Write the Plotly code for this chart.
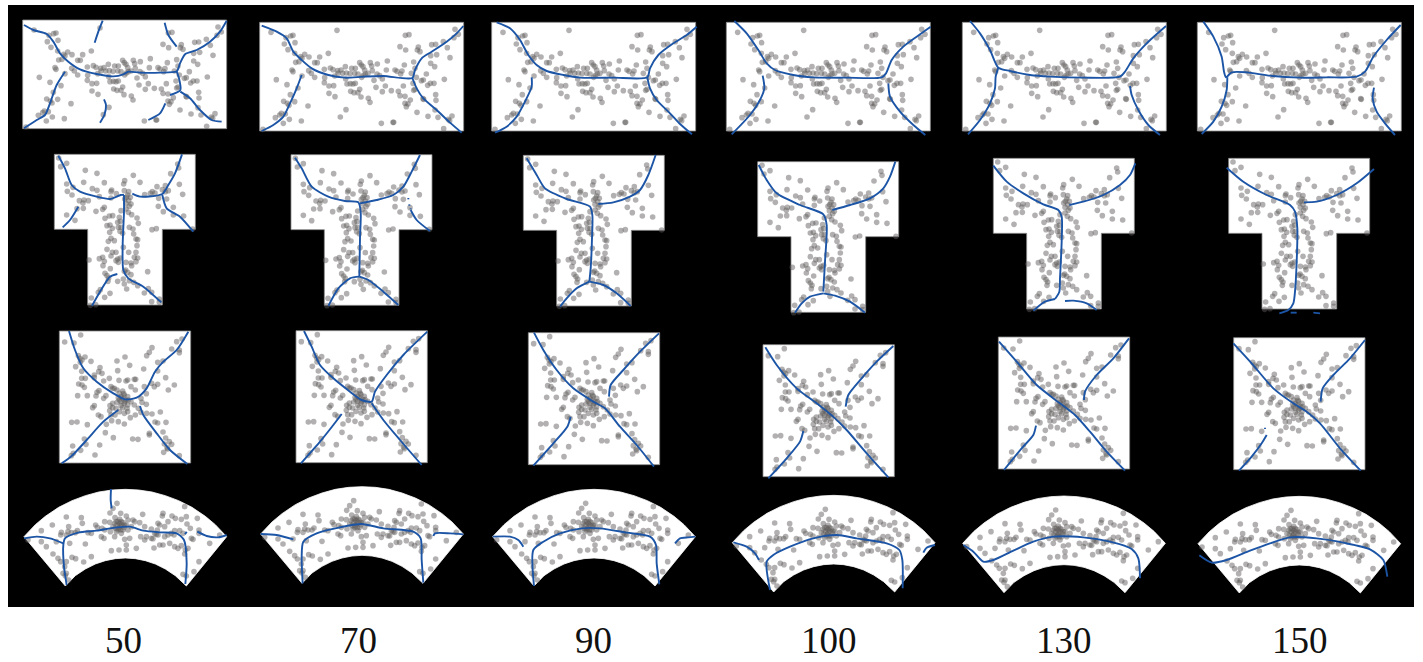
import plotly.graph_objects as go

# Column labels
LABELS = ["50", "70", "90", "100", "130", "150"]
LABEL_X = [123.5, 358, 593, 829, 1064, 1300]
LABEL_Y = 640

# Zoomed crop origins (image px); all lists below are in 3x crop units
CROPS_R1 = [(0, 0), (0, 0), (480, 0), (480, 0), (950, 0), (950, 0)]
CROPS_R2 = [(0, 145), (0, 145), (480, 145), (480, 145), (950, 145), (950, 145)]
CROPS_R3 = [(0, 320), (0, 320), (480, 320), (480, 320), (950, 320), (950, 320)]
CROPS_R4 = [(0, 480), (0, 480), (480, 480), (480, 480), (950, 480), (950, 480)]

# Panel origins inside their crops
ORIG_R1 = [(68, 60), (779, 67), (35, 67), (739, 67), (37, 67), (742, 67)]
ORIG_R2 = [(163, 28), (873, 29), (130, 31), (833, 50), (130, 40), (836, 40)]
ORIG_R3 = [(178, 33), (888, 32), (145, 38), (849, 74), (145, 51), (851, 53)]
ORIG_R4 = [(72, 170), (782, 162), (38, 170), (757, 188), (38, 190), (744, 191)]

# Domain outlines relative to each panel origin
SHAPE_R1 = [(0, 0), (612, 0), (612, 326), (0, 326), (0, 0)]
SHAPE_R2 = [(0, 0), (423, 0), (423, 225), (324, 225), (324, 452), (100, 452), (100, 225), (0, 225), (0, 0)]
SHAPE_R3 = [(0, 0), (394, 0), (394, 396), (0, 396), (0, 0)]
SHAPE_R4 = [(0, 0), (34, -36), (64, -61), (104, -88), (144, -108), (184, -123), (224, -134), (264, -140), (304, -142),
            (344, -140), (384, -134), (424, -123), (464, -108), (504, -88), (544, -61), (574, -36), (608, 0),
            (487, 148), (454, 117), (424, 97), (394, 82), (364, 72), (334, 66), (304, 64), (274, 66), (244, 72),
            (214, 82), (184, 97), (154, 117), (124, 148), (0, 0)]

# Scatter clouds (same samples in every column of a row); crop coords of the panel they were read from
CLOUD_SRC = [(35, 67), (130, 31), (145, 38), (38, 170)]
CLOUD_R1 = [(69,97),(267,91),(135,106),(128,108),(114,113),(109,132),(141,128),(120,149),(140,160),(170,163),(183,171),(158,170),(162,175),(153,185),(143,187),(215,171),(241,160),(200,188),(208,188),(247,204),(229,208),(255,209),(269,212),(292,200),(311,205),(322,205),(335,188),(340,195),(345,200),(367,188),(371,198),(388,192),(418,183),(456,140),(472,106),(483,104),(473,150),(511,141),(508,150),(516,155),(551,134),(563,133),(586,125),(598,143),(606,173),(621,88),(631,103),(618,113),(548,167),(566,164),(548,190),(560,200),(535,222),(589,238),(469,195),(497,186),(501,205),(490,220),(441,210),(447,214),(462,213),(458,222),(415,210),(387,222),(395,227),(373,212),(360,220),(350,210),(352,222),(341,232),(346,226),(330,222),(320,220),(306,221),(295,219),(284,220),(279,210),(270,220),(260,228),(230,233),(229,248),(243,258),(257,257),(243,280),(261,290),(293,237),(297,252),(307,251),(315,252),(322,250),(308,274),(318,278),(330,278),(335,268),(339,291),(361,295),(366,307),(384,262),(378,241),(403,237),(412,258),(403,275),(430,272),(451,274),(456,287),(471,289),(471,310),(487,300),(480,312),(475,320),(507,337),(540,349),(570,352),(601,358),(612,348),(605,362),(587,386),(561,330),(564,301),(563,284),(525,296),(527,298),(539,256),(547,250),(558,250),(501,268),(497,271),(520,242),(526,240),(505,232),(495,250),(466,258),(132,210),(135,215),(85,239),(117,254),(162,228),(182,212),(190,220),(200,232),(150,264),(127,284),(107,304),(118,310),(140,305),(123,316),(112,342),(100,340),(95,345),(82,353),(124,358),(106,370),(160,363),(180,318),(294,329),(277,351),(400,370),(437,367),(435,367),(45,388)]
CLOUD_R2 = [(143,42),(167,58),(149,68),(223,79),(258,88),(367,94),(341,110),(387,115),(338,120),(280,116),(500,60),(503,72),(479,89),(505,121),(515,151),(167,120),(186,130),(169,142),(183,153),(218,115),(244,134),(258,139),(302,138),(300,143),(316,149),(340,140),(353,143),(350,153),(346,160),(358,160),(341,165),(353,170),(360,180),(345,178),(355,187),(438,128),(463,125),(454,137),(424,143),(432,147),(418,148),(401,152),(463,143),(472,140),(443,163),(467,165),(442,187),(457,203),(487,190),(487,213),(518,216),(205,170),(232,170),(219,168),(216,177),(198,194),(217,193),(255,202),(275,196),(280,190),(300,162),(265,158),(295,216),(282,223),(305,215),(325,220),(330,200),(345,195),(352,205),(362,212),(378,222),(382,238),(328,232),(320,235),(297,243),(288,245),(304,253),(322,250),(330,250),(327,262),(335,268),(355,250),(366,255),(368,270),(375,285),(380,287),(378,305),(296,265),(300,283),(310,290),(292,292),(167,213),(192,229),(423,257),(436,254),(545,255),(337,310),(288,316),(304,325),(315,325),(353,325),(375,325),(300,336),(275,340),(265,344),(280,352),(234,348),(320,345),(328,342),(315,350),(322,355),(345,355),(360,357),(370,340),(380,342),(375,353),(362,365),(276,365),(298,374),(344,378),(340,382),(350,385),(360,392),(410,383),(282,388),(288,395),(293,402),(291,412),(320,412),(337,405),(355,410),(368,415),(340,420),(347,435),(380,425),(412,434),(422,445),(400,447),(268,437),(262,445),(281,460),(297,448),(241,462),(445,465),(422,473),(445,475),(238,484),(254,482)]
CLOUD_R3 = [(209,50),(161,71),(189,74),(423,88),(415,102),(407,112),(497,70),(513,62),(482,92),(505,95),(505,103),(202,112),(207,120),(222,116),(213,125),(240,129),(208,132),(194,145),(267,148),(212,159),(263,160),(273,165),(250,170),(212,180),(223,180),(203,197),(213,200),(220,207),(318,128),(342,116),(356,141),(320,157),(398,152),(440,132),(456,128),(440,158),(464,178),(295,180),(324,186),(345,188),(350,185),(370,183),(374,183),(278,188),(250,178),(300,205),(305,210),(264,217),(258,222),(255,233),(229,232),(200,232),(285,232),(278,240),(310,210),(318,215),(335,218),(360,205),(373,215),(400,205),(422,195),(430,205),(440,198),(490,200),(472,215),(406,226),(390,240),(393,252),(406,258),(325,225),(330,235),(340,230),(350,235),(345,245),(325,245),(318,252),(305,255),(297,262),(296,277),(305,268),(315,270),(330,262),(340,255),(350,260),(360,250),(370,260),(382,270),(390,282),(250,262),(245,268),(300,290),(312,290),(325,280),(340,285),(350,280),(358,298),(373,290),(407,285),(423,287),(448,281),(262,290),(270,295),(302,307),(322,310),(340,317),(286,318),(182,312),(198,311),(229,319),(283,343),(307,358),(365,362),(381,363),(415,345),(415,350),(432,311),(440,314),(465,312),(456,341),(464,359),(475,370),(460,377),(468,388),(482,378),(458,402),(470,392),(505,412),(266,380),(252,410),(220,362),(225,378),(209,396),(185,383),(187,405),(181,412),(335,240),(342,250),(330,250),(352,245),(322,238),(338,226),(335,268),(348,270)]
CLOUD_R4 = [(317,70),(305,85),(296,99),(328,100),(394,103),(165,111),(210,113),(213,130),(123,135),(172,140),(90,152),(198,152),(192,158),(170,155),(150,157),(148,165),(180,158),(165,165),(230,158),(240,160),(253,135),(258,142),(280,125),(295,127),(272,145),(280,150),(297,155),(311,113),(345,108),(350,120),(370,125),(385,128),(330,125),(340,135),(325,140),(310,130),(320,150),(305,140),(335,150),(350,150),(320,125),(312,145),(330,160),(345,135),(360,140),(365,120),(400,140),(420,147),(440,130),(445,135),(455,100),(453,108),(482,108),(492,115),(510,118),(520,80),(525,110),(527,132),(537,145),(558,115),(563,150),(563,160),(545,178),(505,152),(490,152),(470,125),(460,140),(438,150),(430,160),(405,170),(388,170),(400,180),(420,175),(425,176),(440,165),(460,170),(470,165),(480,160),(488,165),(475,190),(445,195),(455,195),(428,204),(375,205),(345,195),(345,210),(323,210),(300,212),(355,175),(340,178),(310,170),(270,170),(278,175),(222,192),(175,190),(135,185),(105,200),(90,185),(125,222),(140,235),(148,245),(165,245),(182,232),(193,236),(217,246),(240,230),(160,260),(155,280),(165,280),(172,300),(162,287),(515,283),(525,288),(548,275),(563,245),(522,210),(520,222),(510,197),(490,200),(500,205),(530,205),(540,175),(515,160),(625,165),(595,190),(50,180),(435,163),(325,130),(318,135),(330,135),(335,128),(322,145),(328,150),(315,155),(338,142),(315,125),(325,118)]

# Blue curves per panel, crop coords
LINES_R1 = [
 [[(72,75),(100,90),(140,102),(160,125),(180,160),(205,185),(240,208),(290,222),(340,229),(370,223),(385,215),(420,218),(480,218),(530,214),(540,190),(556,162),(590,150),(630,125),(660,95),(680,62)],
  [(530,214),(537,235),(541,270),(510,285)],[(541,275),(570,295),(600,330),(635,360),(665,365)],
  [(308,62),(295,95),(284,128)],[(494,68),(505,105),(530,140)],
  [(195,215),(170,255),(150,310),(135,345),(110,360),(72,385)],[(312,298),(318,315),(313,345),(300,368)],[(496,310),(480,340),(445,360)]],
 [[(785,77),(830,95),(860,115),(880,155),(905,180),(935,205),(985,225),(1035,233),(1090,230),(1150,228),(1237,234),(1245,210),(1265,175),(1295,155),(1340,125),(1370,100),(1390,78)],
  [(1237,234),(1250,265),(1270,295),(1310,330),(1350,368),(1385,398)],[(905,225),(890,265),(870,310),(850,350),(820,375),(785,393)]],
 [[(50,67),(90,85),(120,120),(145,165),(170,195),(200,213),(250,225),(300,233),(400,233),(502,232),(510,205),(535,165),(580,130),(620,105),(650,80)],
  [(502,232),(510,265),(530,300),(570,340),(600,372),(636,403)],[(155,232),(155,260),(135,305),(110,350),(80,380),(45,398)]],
 [[(763,63),(800,100),(835,150),(860,190),(885,210),(940,225),(1000,232),(1100,233),(1205,232),(1218,220),(1235,180),(1270,140),(1310,110),(1352,80)],
  [(1225,250),(1230,290),(1260,335),(1300,375),(1336,405)],[(848,227),(853,265),(840,300),(810,345),(755,403)]],
 [[(60,63),(90,100),(120,150),(145,203),(180,213),(240,225),(300,230),(400,233),(510,230),(525,215),(550,175),(590,130),(648,78)],
  [(540,258),(545,285),(565,330),(595,375),(630,405)],[(145,203),(137,230),(135,265),(120,310),(90,360),(54,403)]],
 [[(760,65),(790,110),(815,170),(822,215),(828,232),(845,217),(890,217),(960,227),(1050,233),(1130,232),(1220,230),(1245,215),(1270,170),(1310,120),(1352,75)],
  [(1272,263),(1268,295),(1280,335),(1305,370),(1335,405)],[(832,232),(830,270),(815,320),(790,365),(755,402)]],
]
LINES_R2 = [
 [[(175,32),(195,70),(215,120),(240,140),(290,155),(330,162),(362,150),(372,150)],
  [(372,150),(372,200),(368,300),(370,375),(385,400),(430,425),(484,472)],
  [(397,146),(420,155),(487,147),(505,120),(525,85),(546,28)],[(487,150),(500,190),(540,215),(580,260)],
  [(235,185),(210,225),(188,247)],[(352,387),(330,395),(300,440),(276,482)]],
 [[(885,38),(905,70),(935,125),(985,155),(1035,168),(1075,172),(1082,200),(1080,280),(1078,395)],
  [(1080,175),(1130,165),(1180,150),(1210,125),(1235,80),(1260,30)],
  [(1078,395),(1050,400),(1015,430),(985,483)],[(1078,395),(1105,405),(1150,440),(1195,480)],[(1232,195),(1250,225),(1290,258)],
  [(1225,159),(1225,163)],[(1228,178),(1228,182)],[(1232,190),(1232,193)]],
 [[(140,40),(170,90),(195,130),(260,162),(330,185),(337,210),(336,280),(332,370),(328,410)],
  [(355,177),(400,172),(450,155),(480,135),(505,90),(527,30)],
  [(328,410),(290,430),(260,460),(240,485)],[(328,410),(370,420),(410,445),(452,483)]],
 [[(836,60),(860,105),(890,145),(960,180),(1030,208),(1040,240),(1035,350),(1030,440)],
  [(1057,195),(1110,180),(1170,160),(1210,130),(1230,95),(1246,50)],
  [(1030,445),(990,455),(965,475),(945,503)],[(1030,445),(1065,452),(1110,470),(1155,503)]],
 [[(130,62),(170,110),(220,145),(280,178),(325,195),(335,215),(335,290),(330,400),(328,440),(315,462)],
  [(358,180),(400,170),(460,150),(510,120),(540,90),(556,55)],
  [(315,462),(285,470),(250,497)],[(345,468),(370,467),(410,475),(440,495)]],
 [[(830,68),(880,110),(950,150),(1020,180),(1035,200),(1042,250),(1040,350),(1035,440),(1030,475),(1015,495),(988,505)],
  [(1062,172),(1100,170),(1160,150),(1220,115),(1272,72)],[(1022,503),(1040,503)],[(1090,503),(1110,505)]],
]
LINES_R3 = [
 [[(207,33),(225,90),(250,145),(290,185),(340,220),(375,238),(410,233),(440,205),(465,155),(490,125),(530,90),(565,35)],
  [(420,258),(430,285),(470,340),(510,390),(562,432)],[(355,270),(310,305),(260,360),(215,408),(185,430)]],
 [[(912,33),(935,80),(960,135),(1000,175),(1050,215),(1085,240),(1115,245),(1125,215),(1160,165),(1210,105),(1282,35)],
  [(1115,250),(1150,300),(1200,360),(1265,435)],[(1025,282),(1000,315),(960,365),(903,430)]],
 [[(162,38),(190,90),(230,150),(280,205),(340,245),(375,265),(420,320),(470,375),(522,440)],
  [(387,230),(392,195),(430,150),(480,95),(537,40)],[(272,290),(262,320),(220,370),(160,437)]],
 [[(856,82),(890,135),(950,205),(1010,250),(1065,295),(1100,330),(1160,400),(1225,472)],
  [(1097,260),(1105,225),(1145,175),(1190,125),(1240,78)],[(970,333),(960,365),(920,415),(865,475)]],
 [[(147,65),(200,125),(260,195),(330,250),(375,285),(420,335),(470,395),(525,452)],
  [(402,240),(405,215),(440,165),(490,115),(537,55)],[(258,317),(250,345),(215,385),(162,450)]],
 [[(850,70),(905,130),(970,205),(1030,250),(1070,275),(1110,310),(1170,385),(1232,452)],
  [(1112,245),(1118,205),(1150,165),(1200,115),(1245,60)],[(950,345),(935,370),(905,410),(867,452)],[(945,323),(945,327)]],
]
LINES_R4 = [
 [[(200,315),(192,260),(190,195),(195,175),(235,158),(290,152),(345,143),(390,140),(430,152),(480,157),(530,160),(552,180),(560,250),(556,312)],
  [(72,175),(110,170),(150,175),(190,190)],[(333,27),(332,60),(335,85)],[(592,155),(620,168),(655,172),(680,165)],[(555,163),(560,155)]],
 [[(908,310),(905,230),(910,185),(950,160),(1020,142),(1085,132),(1150,145),(1240,155),(1262,175),(1265,240),(1270,308)],
  [(782,162),(830,165),(880,178)],[(1300,168),(1305,160),(1350,160),(1390,163)]],
 [[(162,318),(160,210),(190,185),(240,160),(305,145),(360,145),(440,158),(510,170),(528,195),(530,250),(538,313)],
  [(38,170),(90,170),(115,180),(130,200)],[(585,190),(600,175),(625,172),(646,170)]],
 [[(870,330),(860,245),(880,225),(930,200),(1000,175),(1070,165),(1130,175),(1220,190),(1258,210),(1267,240),(1268,325)],
  [(760,187),(800,200),(825,220),(837,240)],[(1330,218),(1340,203),(1365,195)]],
 [[(40,195),(70,215),(100,245),(130,240),(190,212),(250,185),(310,170),(400,172),(480,185),(545,207),(565,235),(570,295)]],
 [[(748,226),(785,248),(830,240),(900,212),(960,190),(1020,172),(1100,175),(1180,188),(1260,208),(1300,240),(1312,290)]],
]

ROWS = [
 (CROPS_R1, ORIG_R1, SHAPE_R1, CLOUD_R1, LINES_R1, "#8a8a8a"),
 (CROPS_R2, ORIG_R2, SHAPE_R2, CLOUD_R2, LINES_R2, "#8a8a8a"),
 (CROPS_R3, ORIG_R3, SHAPE_R3, CLOUD_R3, LINES_R3, "#8a8a8a"),
 (CROPS_R4, ORIG_R4, SHAPE_R4, CLOUD_R4, LINES_R4, "#ffffff"),
]
SCALE = 3.0

fig = go.Figure()
for r, (crops, origs, shape, cloud, lines, edge) in enumerate(ROWS):
    sx, sy = CLOUD_SRC[r]
    for c in range(6):
        cx, cy = crops[c]
        ox, oy = origs[c]
        fig.add_trace(go.Scatter(
            x=[cx + (ox + p[0]) / SCALE for p in shape],
            y=[cy + (oy + p[1]) / SCALE for p in shape],
            mode="lines", fill="toself", fillcolor="#ffffff",
            line=dict(color=edge, width=0.8), hoverinfo="skip"))
        fig.add_trace(go.Scatter(
            x=[cx + (ox + p[0] - sx) / SCALE for p in cloud],
            y=[cy + (oy + p[1] - sy) / SCALE for p in cloud],
            mode="markers",
            marker=dict(size=5.6, color="rgba(95,90,90,0.48)", line=dict(width=0))))
        for seg in lines[c]:
            fig.add_trace(go.Scatter(
                x=[cx + p[0] / SCALE for p in seg],
                y=[cy + p[1] / SCALE for p in seg],
                mode="lines",
                line=dict(color="#1c55a6", width=1.9, shape="spline", smoothing=0.7)))

for label, lx in zip(LABELS, LABEL_X):
    fig.add_annotation(x=lx, y=LABEL_Y, text=label, showarrow=False,
                       font=dict(family="Liberation Serif", size=37, color="#111111"),
                       xanchor="center", yanchor="middle")

fig.update_layout(
    width=1423, height=662, autosize=False, showlegend=False,
    margin=dict(l=0, r=0, t=0, b=0), paper_bgcolor="#ffffff", plot_bgcolor="#ffffff",
    xaxis=dict(range=[0, 1423], visible=False, fixedrange=True),
    yaxis=dict(range=[662, 0], visible=False, fixedrange=True),
    shapes=[dict(type="rect", xref="x", yref="y", x0=8, x1=1414, y0=5, y1=607,
                 fillcolor="#000000", line=dict(width=0), layer="below")],
)
fig.write_html("out.html", config={"displayModeBar": False},
               post_script="document.body.style.margin='0';document.body.style.overflow='hidden';")
